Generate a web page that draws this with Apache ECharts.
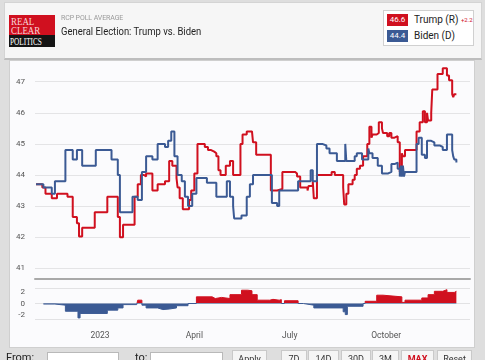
<!DOCTYPE html>
<html>
<head>
<meta charset="utf-8">
<script src="https://cdn.jsdelivr.net/npm/echarts@6/dist/echarts.min.js"></script>
<style>
  html, body { margin: 0; padding: 0; }
  body { width: 485px; height: 360px; overflow: hidden; background: #dedede; position: relative; font-family: Roboto, "Liberation Sans", Arial, sans-serif; }
  .abs { position: absolute; }
  #header { left: 4px; top: 2px; width: 476px; height: 55px; background: #f6f6f6; border: 1px solid #d4d4d4; border-bottom: 2px solid #bdbdbd; }
  #panel { left: 9px; top: 60px; width: 464px; height: 286px; background: #fbfbfd; border: 1px solid #cfcfcf; }
  #chart { left: 0; top: 0; width: 485px; height: 360px; z-index: 2; }
  #logo { left: 9px; top: 15px; width: 46px; height: 32px; background: #d0101f; z-index: 3; overflow: hidden; font-family: "Liberation Serif", "DejaVu Serif", serif; }
  #logo .l { position: absolute; left: 2px; color: #f7d7da; font-size: 10.5px; line-height: 10px; transform: scaleX(0.85); transform-origin: 0 0; }
  #logo .band { position: absolute; left: 0; top: 20px; width: 46px; height: 12px; background: #141414; }
  #logo .p { position: absolute; left: 1px; top: 21px; color: #ffffff; font-size: 11px; line-height: 11px; transform: scaleX(0.66); transform-origin: 0 0; letter-spacing: 0px; }
  #sub { left: 61px; top: 14px; font-size: 7px; color: #9a9a9a; z-index: 3; letter-spacing: -0.1px; }
  #title { left: 61px; top: 25px; font-size: 10.5px; color: #1f1f1f; z-index: 3; transform: scaleX(0.9); transform-origin: 0 0; white-space: nowrap; }
  #legend { left: 383px; top: 10px; width: 89px; height: 34px; background: #ffffff; border: 1px solid #d0d0d0; z-index: 3; }
  .sw { position: absolute; left: 3px; width: 21px; height: 12px; color: #fff; font-size: 8px; line-height: 12px; text-align: center; }
  .lt { position: absolute; left: 30px; font-size: 10px; color: #222; line-height: 12px; white-space: nowrap; }
  #controls { left: 0; top: 347px; width: 485px; height: 13px; z-index: 3; font-size: 11px; color: #222; }
  .inp { position: absolute; top: 5px; height: 14px; background: #fff; border: 1px solid #b9b9b9; }
  .btn { position: absolute; top: 3px; height: 16px; background: #f5f5f5; border: 1px solid #c9c9c9; font-size: 9px; line-height: 16px; text-align: center; color: #333; }
  .lbl { position: absolute; top: 4px; font-size: 11px; line-height: 14px; }
</style>
</head>
<body>
<div id="header" class="abs"></div>
<div id="panel" class="abs"></div>
<div id="logo" class="abs">
  <div class="l" style="top:2px">REAL</div>
  <div class="l" style="top:11px">CLEAR</div>
  <div class="band"></div>
  <div class="p">POLITICS</div>
</div>
<div id="sub" class="abs">RCP POLL AVERAGE</div>
<div id="title" class="abs">General Election: Trump vs. Biden</div>
<div id="legend" class="abs">
  <div class="sw" style="top:3px;background:#d0101f">46.6</div>
  <div class="lt" style="top:3px">Trump (R) <span style="color:#d0101f;font-size:6px;vertical-align:1px">+2.2</span></div>
  <div class="sw" style="top:19px;background:#3b5a94">44.4</div>
  <div class="lt" style="top:19px">Biden (D)</div>
</div>
<div id="controls" class="abs">
  <div class="lbl" style="left:6px">From:</div>
  <div class="inp" style="left:47px;width:70px"></div>
  <div class="lbl" style="left:135px">to:</div>
  <div class="inp" style="left:150px;width:71px"></div>
  <div class="btn" style="left:232px;width:33px">Apply</div>
  <div class="btn" style="left:281px;width:24px">7D</div>
  <div class="btn" style="left:308px;width:29px">14D</div>
  <div class="btn" style="left:341px;width:28px">30D</div>
  <div class="btn" style="left:372px;width:25px">3M</div>
  <div class="btn" style="left:401px;width:31px;color:#d0101f;font-weight:bold">MAX</div>
  <div class="btn" style="left:437px;width:33px">Reset</div>
</div>
<div id="chart" class="abs"></div>
<script>
// ---- data ----
const xStart = '2022-10-31';
const xEnd = '2023-12-20';
const xLabelMonths = { 0: null, 3: 'April', 6: 'July', 9: 'October' };

const trumpSeries = [
  ['2022-11-01',43.7],['2022-11-07',43.6],['2022-11-10',43.4],['2022-11-16',43.25],['2022-11-21',43.4],
  ['2022-12-01',43.3],['2022-12-06',42.65],['2022-12-10',42.45],['2022-12-12',42.02],['2022-12-15',42.3],
  ['2022-12-27',42.8],['2023-01-08',43.3],['2023-01-18',42.65],['2023-01-20',42.0],['2023-01-23',42.4],
  ['2023-02-03',43.3],['2023-02-06',43.7],['2023-02-09',44.0],['2023-02-12',43.95],['2023-02-14',44.05],
  ['2023-02-20',43.5],['2023-02-25',43.7],['2023-03-04',43.8],['2023-03-08',44.45],['2023-03-11',44.3],
  ['2023-03-15',43.9],['2023-03-16',43.6],['2023-03-18',43.25],['2023-03-21',42.9],['2023-03-27',43.2],
  ['2023-03-29',43.5],['2023-04-01',44.05],['2023-04-04',45.0],['2023-04-11',44.9],['2023-04-14',44.8],
  ['2023-04-17',44.75],['2023-04-20',44.7],['2023-04-22',44.6],['2023-04-24',44.15],['2023-04-26',44.0],
  ['2023-05-01',44.3],['2023-05-05',44.45],['2023-05-08',44.0],['2023-05-15',45.0],['2023-05-17',45.3],
  ['2023-05-21',45.4],['2023-05-26',45.45],['2023-05-27',45.05],['2023-05-30',44.65],['2023-06-13',43.5],
  ['2023-06-19',43.55],['2023-06-24',44.1],['2023-07-06',44.05],['2023-07-08',43.95],['2023-07-11',43.6],
  ['2023-07-18',43.5],['2023-07-19',43.65],['2023-07-23',43.8],['2023-07-24',43.25],['2023-07-27',44.0],
  ['2023-08-10',44.1],['2023-08-13',44.0],['2023-08-21',43.6],['2023-08-22',43.05],['2023-08-24',43.4],
  ['2023-08-26',43.7],['2023-08-30',43.85],['2023-09-01',44.0],['2023-09-03',44.2],['2023-09-06',44.3],
  ['2023-09-09',44.6],['2023-09-13',45.0],['2023-09-15',45.55],['2023-09-17',45.2],['2023-09-18',45.3],
  ['2023-09-22',45.35],['2023-09-24',45.7],['2023-09-27',45.5],['2023-09-28',45.35],['2023-10-02',45.25],
  ['2023-10-04',45.35],['2023-10-06',45.2],['2023-10-09',45.25],['2023-10-12',45.05],['2023-10-14',44.1],
  ['2023-10-16',44.7],['2023-10-17',44.6],['2023-10-19',44.8],['2023-10-30',45.4],['2023-11-02',45.7],
  ['2023-11-05',46.05],['2023-11-07',45.7],['2023-11-09',46.0],['2023-11-10',45.75],['2023-11-13',46.0],
  ['2023-11-14',46.75],['2023-11-19',47.25],['2023-11-24',47.43],['2023-11-28',47.2],['2023-11-30',47.05],
  ['2023-12-03',46.6],['2023-12-04',46.5],['2023-12-05',46.6],['2023-12-07',46.6]
];

const bidenSeries = [
  ['2022-11-01',43.7],['2022-11-08',43.6],['2022-11-16',43.4],['2022-11-19',43.8],['2022-11-29',44.8],
  ['2022-12-06',44.5],['2022-12-10',44.8],['2022-12-15',44.3],['2022-12-28',44.8],['2023-01-12',44.5],
  ['2023-01-18',44.0],['2023-01-20',42.8],['2023-02-01',43.3],['2023-02-06',43.2],['2023-02-10',44.1],
  ['2023-02-14',44.6],['2023-02-20',44.5],['2023-02-25',45.0],['2023-03-04',44.9],['2023-03-07',45.1],
  ['2023-03-10',45.4],['2023-03-13',44.6],['2023-03-16',44.0],['2023-03-20',43.8],['2023-03-23',43.3],
  ['2023-03-26',43.0],['2023-03-30',43.4],['2023-04-03',43.9],['2023-04-13',43.75],['2023-04-22',43.3],
  ['2023-05-02',43.8],['2023-05-05',43.3],['2023-05-08',43.0],['2023-05-09',42.6],['2023-05-16',42.7],
  ['2023-05-21',43.3],['2023-05-24',43.7],['2023-05-27',44.0],['2023-06-14',43.1],['2023-06-19',43.0],
  ['2023-06-21',43.5],['2023-07-09',43.8],['2023-07-21',44.15],['2023-07-23',43.8],['2023-07-27',45.0],
  ['2023-08-01',44.95],['2023-08-05',44.85],['2023-08-08',44.7],['2023-08-15',44.45],['2023-08-23',45.0],
  ['2023-08-24',44.45],['2023-09-01',44.6],['2023-09-03',44.7],['2023-09-08',44.5],['2023-09-14',44.85],
  ['2023-09-15',44.7],['2023-09-18',44.55],['2023-09-23',44.3],['2023-09-27',44.05],['2023-10-03',44.1],
  ['2023-10-06',44.35],['2023-10-09',44.4],['2023-10-12',44.2],['2023-10-14',43.95],['2023-10-15',44.3],
  ['2023-10-16',43.95],['2023-10-17',44.3],['2023-10-18',43.95],['2023-10-19',44.1],['2023-10-30',45.0],
  ['2023-11-01',45.2],['2023-11-04',44.65],['2023-11-07',44.55],['2023-11-09',45.1],['2023-11-13',45.05],
  ['2023-11-16',44.95],['2023-11-21',44.9],['2023-11-24',44.8],['2023-11-28',45.3],['2023-12-03',44.8],
  ['2023-12-04',44.6],['2023-12-05',44.5],['2023-12-07',44.4]
];

const spreadSeries = [
  ['2022-11-08',-0.1],['2022-11-19',-0.3],['2022-11-29',-1.4],['2022-12-11',-2.6],['2022-12-13',-1.8],
  ['2023-01-08',-1.2],['2023-01-18',-0.8],['2023-01-23',-0.2],['2023-02-05',0.0],['2023-02-06',0.6],
  ['2023-02-10',-0.3],['2023-02-14',-0.8],['2023-02-25',-1.1],['2023-03-02',-1.0],['2023-03-08',-0.8],
  ['2023-03-15',-0.4],['2023-03-26',0.0],['2023-04-03',1.2],['2023-04-18',0.9],['2023-04-21',1.1],
  ['2023-04-27',0.9],['2023-05-05',1.6],['2023-05-16',2.4],['2023-05-22',2.3],['2023-05-26',1.6],
  ['2023-05-31',0.6],['2023-06-12',0.75],['2023-06-15',0.6],['2023-06-21',0.7],['2023-06-23',0.0],
  ['2023-06-26',0.5],['2023-07-09',0.0],['2023-07-14',-0.3],['2023-07-24',-0.8],['2023-08-21',-1.5],
  ['2023-08-23',-2.0],['2023-08-25',-0.5],['2023-09-09',0.0],['2023-09-11',0.4],['2023-09-22',1.5],
  ['2023-09-28',1.2],['2023-10-16',0.2],['2023-10-19',0.6],['2023-11-04',1.0],['2023-11-10',1.6],
  ['2023-11-16',2.2],['2023-11-24',2.5],['2023-11-28',2.0],['2023-12-05',2.2],['2023-12-07',2.2]
];

const mainYMin = 41, mainYMax = 47, mainYStep = 1;
const spreadYMin = -2.8, spreadYMax = 2.8;
const spreadLabels = [-2, 0, 2];
const spreadGuides = [2.8, 0, -2.8];

const RED = '#d0101f', BLUE = '#3b5a94';

const chart = echarts.init(document.getElementById('chart'), null, { renderer: 'canvas' });
const labelColor = '#555';
const fontFamily = 'Roboto, "Liberation Sans", Arial, sans-serif';

chart.setOption({
  animation: false,
  backgroundColor: 'transparent',
  grid: [
    { left: 35, right: 15, top: 81.7, bottom: 360 - 268.3 },
    { left: 35, right: 15, top: 288, bottom: 360 - 319 }
  ],
  xAxis: [
    { type: 'time', gridIndex: 0, min: xStart, max: xEnd,
      axisLabel: { show: false }, axisTick: { show: false }, splitLine: { show: false },
      axisLine: { show: true, onZero: false, lineStyle: { color: '#a9a9a9', width: 2 } }, offset: 10 },
    { type: 'time', gridIndex: 1, min: xStart, max: xEnd, splitNumber: 14,
      axisLine: { show: false }, axisTick: { show: false }, splitLine: { show: false },
      axisLabel: {
        color: labelColor, fontSize: 8.5, fontFamily: fontFamily, margin: 12, interval: 0,
        showMinLabel: false, showMaxLabel: false, hideOverlap: false,
        formatter: function (v) {
          const d = new Date(v);
          if (d.getDate() !== 1) return '';
          const m = d.getMonth();
          if (!(m in xLabelMonths)) return '';
          return m === 0 ? String(d.getFullYear()) : xLabelMonths[m];
        }
      } }
  ],
  yAxis: [
    { type: 'value', gridIndex: 0, min: mainYMin, max: mainYMax, interval: mainYStep,
      axisLine: { show: false }, axisTick: { show: false },
      axisLabel: { color: labelColor, fontSize: 8, fontFamily: fontFamily, margin: 10 },
      splitLine: { lineStyle: { color: '#e4e4e6', width: 1 } } },
    { type: 'value', gridIndex: 1, min: spreadYMin, max: spreadYMax, splitNumber: 3,
      axisLine: { show: false }, axisTick: { show: false },
      axisLabel: { color: labelColor, fontSize: 8, fontFamily: fontFamily, margin: 10,
        showMinLabel: false, showMaxLabel: false,
        formatter: function (v) { return spreadLabels.indexOf(v) >= 0 ? String(v) : ''; } },
      splitLine: { show: false } }
  ],
  visualMap: [{
    show: false, type: 'piecewise', seriesIndex: 2, dimension: 1,
    pieces: [{ min: -10, max: 0, color: BLUE }, { gt: 0, lte: 10, color: RED }]
  }],
  series: [
    { name: 'Trump (R)', type: 'line', xAxisIndex: 0, yAxisIndex: 0, step: 'end', data: trumpSeries,
      showSymbol: false, clip: false, lineStyle: { color: RED, width: 2 }, itemStyle: { color: RED }, z: 3 },
    { name: 'Biden (D)', type: 'line', xAxisIndex: 0, yAxisIndex: 0, step: 'end', data: bidenSeries,
      showSymbol: false, clip: false, lineStyle: { color: BLUE, width: 2 }, itemStyle: { color: BLUE }, z: 4 },
    { name: 'Spread', type: 'line', xAxisIndex: 1, yAxisIndex: 1, step: 'end', data: spreadSeries,
      showSymbol: false, clip: false, lineStyle: { width: 1 }, areaStyle: { opacity: 1, origin: 0 }, z: 3,
      markLine: { silent: true, symbol: 'none', label: { show: false }, z: 1,
        lineStyle: { color: '#e2e2e4', type: 'solid', width: 1 },
        data: spreadGuides.map(function (v) { return { yAxis: v }; }) } }
  ]
});
</script>
</body>
</html>
